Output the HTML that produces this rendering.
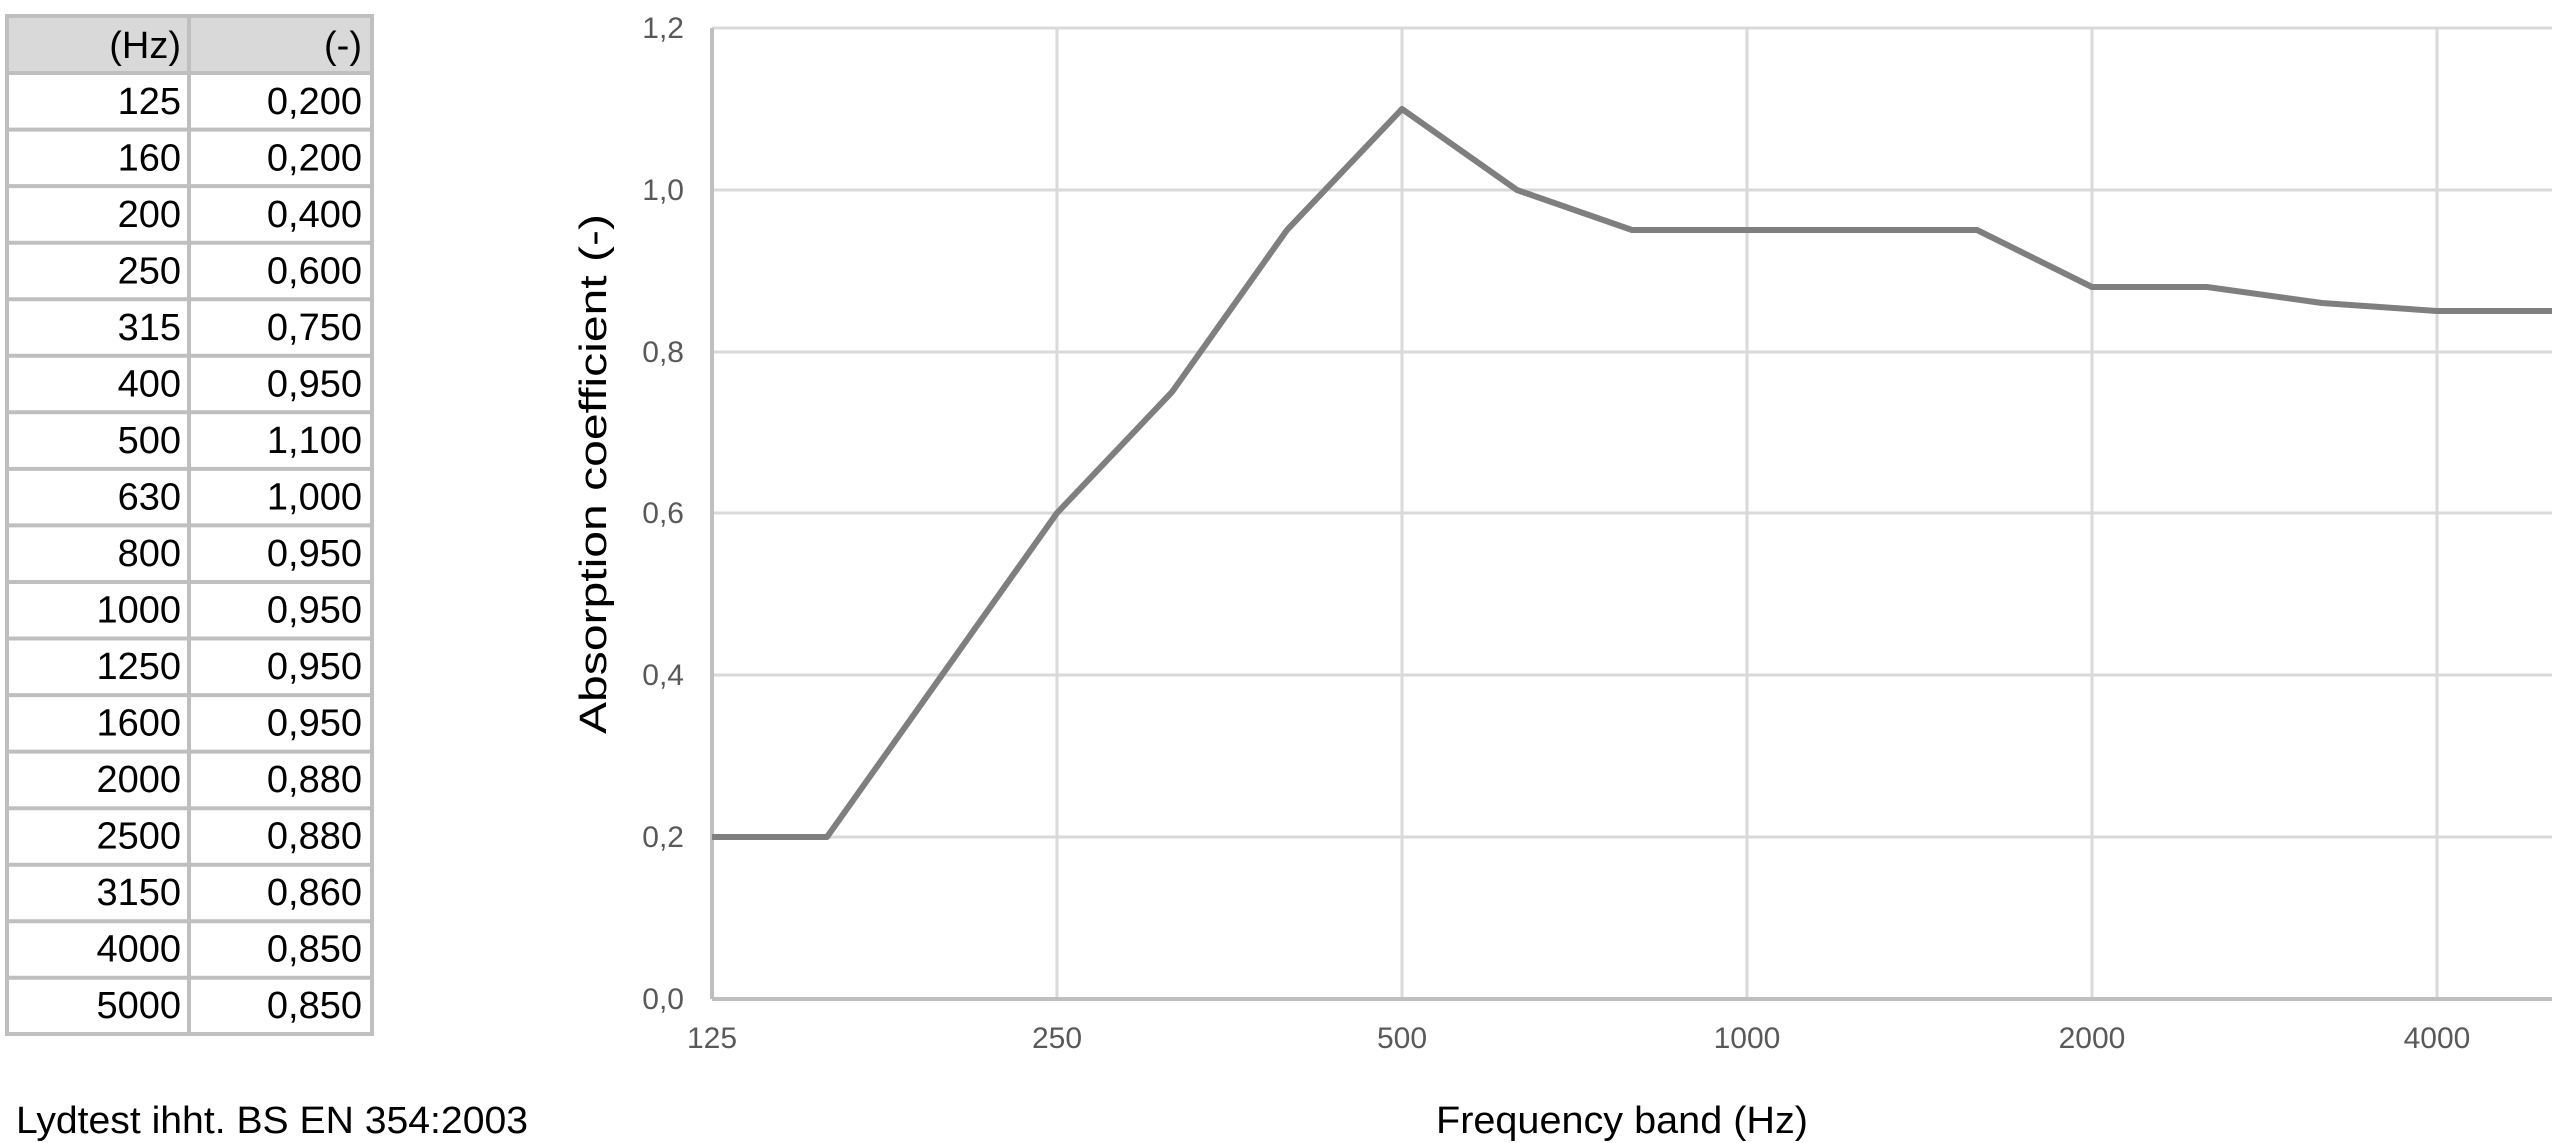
<!DOCTYPE html>
<html><head><meta charset="utf-8"><style>
html,body{margin:0;padding:0;background:#fff;}
svg{display:block;font-family:"Liberation Sans",sans-serif;}
</style></head><body>
<svg width="2560" height="1143" viewBox="0 0 2560 1143" xmlns="http://www.w3.org/2000/svg">
<rect x="7" y="16" width="365" height="57" fill="#d9d9d9"/>
<g stroke="#bfbfbf" stroke-width="4" fill="none">
<rect x="7" y="16" width="365" height="1018"/>
<line x1="189" y1="16" x2="189" y2="1034"/>
<line x1="7" y1="73" x2="372" y2="73"/>
<line x1="7" y1="129.6" x2="372" y2="129.6"/>
<line x1="7" y1="186.1" x2="372" y2="186.1"/>
<line x1="7" y1="242.7" x2="372" y2="242.7"/>
<line x1="7" y1="299.2" x2="372" y2="299.2"/>
<line x1="7" y1="355.8" x2="372" y2="355.8"/>
<line x1="7" y1="412.3" x2="372" y2="412.3"/>
<line x1="7" y1="468.9" x2="372" y2="468.9"/>
<line x1="7" y1="525.4" x2="372" y2="525.4"/>
<line x1="7" y1="582" x2="372" y2="582"/>
<line x1="7" y1="638.5" x2="372" y2="638.5"/>
<line x1="7" y1="695.1" x2="372" y2="695.1"/>
<line x1="7" y1="751.6" x2="372" y2="751.6"/>
<line x1="7" y1="808.2" x2="372" y2="808.2"/>
<line x1="7" y1="864.7" x2="372" y2="864.7"/>
<line x1="7" y1="921.3" x2="372" y2="921.3"/>
<line x1="7" y1="977.8" x2="372" y2="977.8"/>
</g>
<g font-size="38" fill="#000" text-anchor="end">
<text x="181" y="58">(Hz)</text><text x="362" y="58">(-)</text>
<text x="181" y="114">125</text><text x="362" y="114">0,200</text>
<text x="181" y="170.5">160</text><text x="362" y="170.5">0,200</text>
<text x="181" y="227">200</text><text x="362" y="227">0,400</text>
<text x="181" y="283.5">250</text><text x="362" y="283.5">0,600</text>
<text x="181" y="340">315</text><text x="362" y="340">0,750</text>
<text x="181" y="396.5">400</text><text x="362" y="396.5">0,950</text>
<text x="181" y="453">500</text><text x="362" y="453">1,100</text>
<text x="181" y="509.5">630</text><text x="362" y="509.5">1,000</text>
<text x="181" y="566">800</text><text x="362" y="566">0,950</text>
<text x="181" y="622.5">1000</text><text x="362" y="622.5">0,950</text>
<text x="181" y="679">1250</text><text x="362" y="679">0,950</text>
<text x="181" y="735.5">1600</text><text x="362" y="735.5">0,950</text>
<text x="181" y="792">2000</text><text x="362" y="792">0,880</text>
<text x="181" y="848.5">2500</text><text x="362" y="848.5">0,880</text>
<text x="181" y="905">3150</text><text x="362" y="905">0,860</text>
<text x="181" y="961.5">4000</text><text x="362" y="961.5">0,850</text>
<text x="181" y="1018">5000</text><text x="362" y="1018">0,850</text>
</g>
<text x="16" y="1133" font-size="38" fill="#000" textLength="512" lengthAdjust="spacingAndGlyphs">Lydtest ihht. BS EN 354:2003</text>
<g stroke="#d9d9d9" stroke-width="3">
<line x1="712" y1="28" x2="2552" y2="28"/>
<line x1="712" y1="190" x2="2552" y2="190"/>
<line x1="712" y1="352" x2="2552" y2="352"/>
<line x1="712" y1="513" x2="2552" y2="513"/>
<line x1="712" y1="675" x2="2552" y2="675"/>
<line x1="712" y1="837" x2="2552" y2="837"/>
<line x1="1057" y1="28" x2="1057" y2="999"/>
<line x1="1402" y1="28" x2="1402" y2="999"/>
<line x1="1747" y1="28" x2="1747" y2="999"/>
<line x1="2092" y1="28" x2="2092" y2="999"/>
<line x1="2437" y1="28" x2="2437" y2="999"/>
</g>
<g stroke="#bfbfbf" stroke-width="4">
<line x1="712" y1="28" x2="712" y2="999"/>
<line x1="712" y1="999" x2="2552" y2="999"/>
</g>
<g font-size="30" fill="#595959" text-anchor="end">
<text x="684" y="38">1,2</text><text x="684" y="200">1,0</text><text x="684" y="362">0,8</text>
<text x="684" y="523">0,6</text><text x="684" y="685">0,4</text><text x="684" y="847">0,2</text><text x="684" y="1009">0,0</text>
</g>
<g font-size="30" fill="#595959" text-anchor="middle">
<text x="712" y="1048">125</text><text x="1057" y="1048">250</text><text x="1402" y="1048">500</text>
<text x="1747" y="1048">1000</text><text x="2092" y="1048">2000</text><text x="2437" y="1048">4000</text>
</g>
<polyline fill="none" stroke="#7f7f7f" stroke-width="6" stroke-linejoin="round"
points="712,837 827,837 942,675 1057,513 1172,392 1287,230 1402,109 1517,190 1632,230 1747,230 1862,230 1977,230 2092,287 2207,287 2322,303 2437,311 2552,311"/>
<text transform="translate(606,474) rotate(-90)" font-size="38" fill="#000" text-anchor="middle" textLength="520" lengthAdjust="spacingAndGlyphs">Absorption coefficient (-)</text>
<text x="1622" y="1133" font-size="38" fill="#000" text-anchor="middle" textLength="372" lengthAdjust="spacingAndGlyphs">Frequency band (Hz)</text>
</svg>
</body></html>
